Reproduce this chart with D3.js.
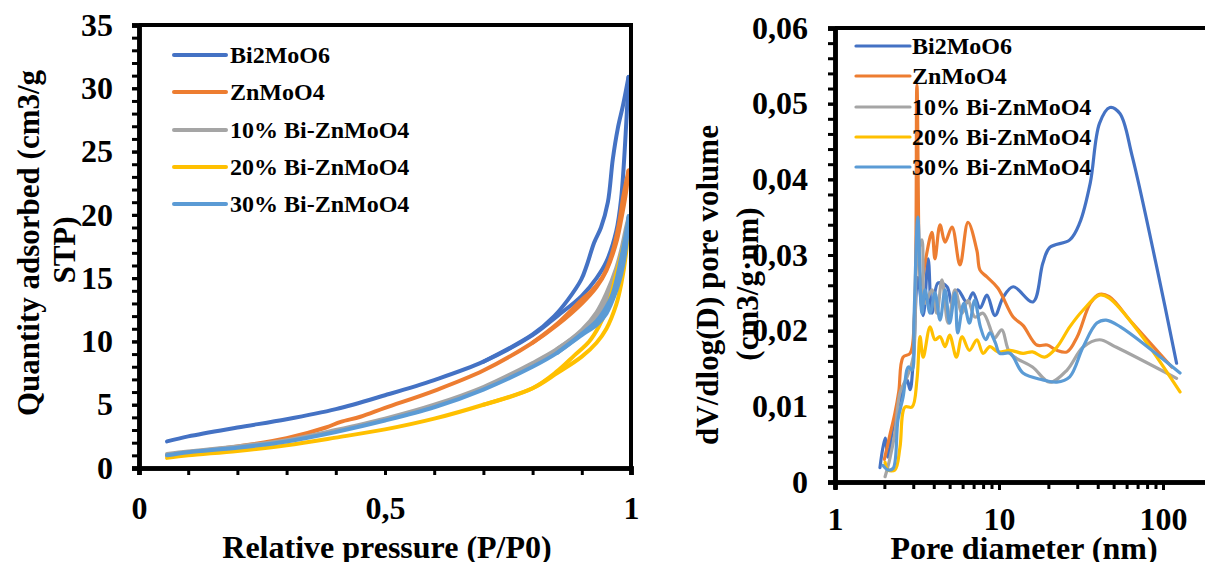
<!DOCTYPE html>
<html><head><meta charset="utf-8">
<script src="https://cdn.jsdelivr.net/npm/d3@7"></script>
<style>
body{margin:0;background:#fff;}
svg text{font-family:"Liberation Serif","Times New Roman",serif;font-weight:bold;fill:#000;}
</style>
</head><body>
<svg id="c" width="1205" height="562"></svg>
<script>
// ---------- shared ----------
const seriesNames = ["Bi2MoO6", "ZnMoO4", "10% Bi-ZnMoO4", "20% Bi-ZnMoO4", "30% Bi-ZnMoO4"];
const seriesColors = ["#4472C4", "#ED7D31", "#A5A5A5", "#FFC000", "#5B9BD5"];

// ---------- left: N2 isotherms (adsorption + desorption branches) ----------
const pAds = [0.057, 0.1, 0.2, 0.3, 0.4, 0.5, 0.6, 0.7, 0.8, 0.85, 0.9, 0.93, 0.95, 0.97, 0.98, 0.99, 0.995];
const bi2Ads = [2.1, 2.5, 3.2, 3.85, 4.65, 5.75, 6.95, 8.4, 10.5, 12.0, 13.6, 15.0, 16.3, 18.7, 21.3, 27.0, 30.9];
const bi2DesP = [0.995, 0.984, 0.973, 0.963, 0.953, 0.939, 0.925, 0.91, 0.899, 0.872, 0.844, 0.8, 0.7];
const bi2DesQ = [30.9, 28.7, 26.8, 24.4, 21.0, 19.0, 17.8, 16.0, 14.9, 13.3, 12.0, 10.55, 8.4];
const znAdsP = [0.057, 0.1, 0.2, 0.3, 0.38, 0.41, 0.45, 0.5, 0.6, 0.7, 0.8, 0.85, 0.9, 0.93, 0.95, 0.97, 0.98, 0.99, 0.995];
const znAdsQ = [1.0, 1.25, 1.7, 2.35, 3.2, 3.65, 4.05, 4.75, 6.1, 7.7, 9.9, 11.3, 13.0, 14.3, 15.6, 17.8, 19.6, 21.8, 23.5];
const znDesP = [0.995, 0.985, 0.975, 0.962, 0.945, 0.92, 0.9, 0.85, 0.8];
const znDesQ = [23.5, 21.6, 19.2, 17.0, 15.3, 14.0, 13.3, 11.4, 9.9];
const bi10Ads = [1.1, 1.3, 1.7, 2.2, 3.0, 3.9, 5.0, 6.4, 8.3, 9.4, 10.9, 12.3, 13.8, 15.8, 17.2, 19.0, 19.8];
const bi10DesP = [0.995, 0.99, 0.98, 0.965, 0.95, 0.93, 0.9, 0.85];
const bi10DesQ = [19.8, 18.5, 16.8, 14.6, 13.3, 12.0, 10.8, 9.4];
const bi20Ads = [0.8, 1.0, 1.35, 1.8, 2.4, 3.05, 3.9, 5.0, 6.3, 7.5, 8.8, 9.9, 11.0, 12.9, 14.5, 17.0, 19.4];
const bi20DesP = [0.995, 0.985, 0.97, 0.953, 0.935, 0.915, 0.885, 0.85, 0.8, 0.7];
const bi20DesQ = [19.4, 17.6, 15.3, 12.8, 11.2, 10.0, 8.9, 7.65, 6.3, 5.0];
const bi30Ads = [1.0, 1.25, 1.6, 2.1, 2.85, 3.75, 4.8, 6.2, 8.0, 9.1, 10.5, 11.3, 12.2, 14.0, 15.3, 17.5, 19.9];
const bi30DesP = [0.996, 0.99, 0.98, 0.963, 0.945, 0.93, 0.9, 0.85];
const bi30DesQ = [19.9, 18.6, 16.6, 13.8, 12.4, 11.6, 10.6, 9.1];
const leftYTicks = [0, 5, 10, 15, 20, 25, 30, 35];
const leftXTicks = [0, 0.5, 1];

// ---------- right: pore size distribution ----------
const bi2Diam = [1.88, 2.02, 2.1, 2.26, 2.56, 2.75, 2.87, 3.0, 3.2, 3.45, 3.7, 3.9, 4.25, 4.82, 5.17, 5.6, 6.38, 6.94, 7.67, 8.44, 9.45, 10.6, 12.2, 16.1, 18.5, 20.4, 27, 31, 36, 41, 47.4, 54.6, 65, 91.6, 121];
const bi2Vol = [0.0019, 0.0058, 0.0033, 0.0073, 0.0118, 0.0135, 0.0122, 0.016, 0.027, 0.022, 0.0295, 0.0223, 0.0263, 0.0258, 0.0234, 0.0254, 0.0237, 0.025, 0.023, 0.0247, 0.022, 0.0244, 0.0258, 0.0238, 0.0289, 0.031, 0.032, 0.0342, 0.0395, 0.0474, 0.0495, 0.0487, 0.043, 0.0284, 0.0157];
const znDiam = [2.0, 2.15, 2.32, 2.45, 2.6, 2.87, 3.05, 3.16, 3.35, 3.54, 3.9, 4.07, 4.37, 4.69, 5.17, 5.78, 6.47, 7.33, 7.66, 8.44, 9.86, 12.2, 14, 17, 19.7, 22.5, 26, 30, 36, 41, 47, 65, 113];
const znVol = [0.003, 0.006, 0.0091, 0.012, 0.0165, 0.017, 0.022, 0.0525, 0.026, 0.029, 0.033, 0.0295, 0.034, 0.0317, 0.0337, 0.0287, 0.0343, 0.0306, 0.028, 0.0271, 0.0256, 0.0218, 0.0207, 0.0181, 0.0181, 0.0174, 0.0172, 0.0192, 0.0236, 0.0248, 0.0245, 0.021, 0.0152];
const bi10Diam = [2.02, 2.15, 2.32, 2.49, 2.75, 3.0, 3.16, 3.39, 3.54, 3.9, 4.18, 4.49, 4.89, 5.39, 5.95, 6.47, 7.14, 7.99, 9.05, 9.4, 10.4, 11.7, 16, 20.4, 26, 32.5, 41, 52, 121];
const bi10Vol = [0.0007, 0.0029, 0.0065, 0.0118, 0.0139, 0.0165, 0.0293, 0.032, 0.0236, 0.0254, 0.0223, 0.0267, 0.021, 0.0254, 0.0223, 0.024, 0.0218, 0.0223, 0.0197, 0.019, 0.0201, 0.017, 0.0152, 0.0132, 0.0148, 0.0178, 0.0188, 0.0178, 0.0137];
const bi20Diam = [2.02, 2.1, 2.32, 2.49, 2.67, 2.95, 3.16, 3.3, 3.45, 3.8, 4.07, 4.37, 4.69, 5.0, 5.5, 5.95, 6.6, 7.33, 8.0, 8.8, 9.86, 11.7, 14, 16, 19, 22.5, 27, 32.5, 41, 47, 72, 127];
const bi20Vol = [0.0026, 0.0016, 0.0016, 0.0046, 0.0099, 0.0099, 0.0135, 0.0192, 0.0165, 0.0205, 0.0188, 0.0192, 0.0179, 0.0194, 0.0165, 0.0192, 0.0174, 0.0188, 0.017, 0.0179, 0.0172, 0.0174, 0.017, 0.0172, 0.0165, 0.0178, 0.0205, 0.0227, 0.0247, 0.0243, 0.0197, 0.0119];
const bi30Diam = [1.96, 2.1, 2.26, 2.42, 2.6, 2.8, 2.95, 3.03, 3.2, 3.39, 3.54, 3.8, 4.07, 4.37, 4.69, 5.0, 5.39, 5.6, 6.1, 6.6, 7.1, 7.7, 8.3, 8.8, 9.5, 10.1, 11.7, 14, 18.5, 22.5, 27, 32.5, 39.5, 45, 55, 127];
const bi30Vol = [0.0022, 0.0016, 0.0018, 0.0082, 0.0112, 0.0152, 0.0148, 0.0214, 0.035, 0.0223, 0.0254, 0.0223, 0.025, 0.0214, 0.0254, 0.021, 0.025, 0.0197, 0.0236, 0.021, 0.024, 0.0205, 0.0188, 0.0197, 0.0184, 0.017, 0.017, 0.0144, 0.0135, 0.0132, 0.0139, 0.0178, 0.021, 0.0214, 0.0205, 0.0144];
const rightYTicks = [0, 0.01, 0.02, 0.03, 0.04, 0.05, 0.06];
const rightXTicks = [1, 10, 100];

const svg = d3.select("#c");
const TICK_FONT = "32px";

// ================= LEFT CHART =================
const L = {x0: 139, x1: 631, y0: 468, y1: 25};
const lx = d3.scaleLinear().domain([0, 1]).range([L.x0, L.x1]);
const ly = d3.scaleLinear().domain([0, 35]).range([L.y0, L.y1]);

const isoSeries = [
  {ads: pAds.map((p, i) => [p, bi2Ads[i]]), des: bi2DesP.map((p, i) => [p, bi2DesQ[i]])},
  {ads: znAdsP.map((p, i) => [p, znAdsQ[i]]), des: znDesP.map((p, i) => [p, znDesQ[i]])},
  {ads: pAds.map((p, i) => [p, bi10Ads[i]]), des: bi10DesP.map((p, i) => [p, bi10DesQ[i]])},
  {ads: pAds.map((p, i) => [p, bi20Ads[i]]), des: bi20DesP.map((p, i) => [p, bi20DesQ[i]])},
  {ads: pAds.map((p, i) => [p, bi30Ads[i]]), des: bi30DesP.map((p, i) => [p, bi30DesQ[i]])}
];
const isoLine = d3.line().x(d => lx(d[0])).y(d => ly(d[1])).curve(d3.curveCatmullRom.alpha(0.5));
isoSeries.forEach((s, i) => {
  const g = svg.append("g");
  [s.ads, s.des].forEach(branch => {
    g.append("path").attr("d", isoLine(branch)).attr("fill", "none")
      .attr("stroke", seriesColors[i]).attr("stroke-width", 4)
      .attr("stroke-linecap", "round").attr("stroke-linejoin", "round");
  });
});

// frame
svg.append("line").attr("x1", L.x0).attr("x2", L.x1 + 2).attr("y1", L.y1).attr("y2", L.y1).attr("stroke", "#000").attr("stroke-width", 4);
svg.append("line").attr("x1", L.x1).attr("x2", L.x1).attr("y1", L.y1).attr("y2", L.y0).attr("stroke", "#000").attr("stroke-width", 4);

function styleAxis(g, w) {
  g.select(".domain").attr("stroke", "#000").attr("stroke-width", w);
  g.selectAll(".tick line").attr("stroke", "#000").attr("stroke-width", 3);
  g.selectAll(".tick text").style("font-size", TICK_FONT).attr("fill", "#000");
}
const fmtComma = v => v === 0 ? "0" : String(v).replace(".", ",");

// left y axis
const lyMinor = svg.append("g").attr("transform", `translate(${L.x0},0)`)
  .call(d3.axisLeft(ly).tickValues(d3.range(0, 36, 1)).tickSize(7).tickFormat(""));
styleAxis(lyMinor, 4.5);
const lyMajor = svg.append("g").attr("transform", `translate(${L.x0},0)`)
  .call(d3.axisLeft(ly).tickValues(leftYTicks).tickSize(7).tickPadding(19).tickFormat(fmtComma));
styleAxis(lyMajor, 4.5);
// left x axis
const lxMinor = svg.append("g").attr("transform", `translate(0,${L.y0})`)
  .call(d3.axisBottom(lx).tickValues(d3.range(0, 11).map(i => i / 10)).tickSize(7).tickFormat(""));
styleAxis(lxMinor, 4.5);
const lxMajor = svg.append("g").attr("transform", `translate(0,${L.y0})`)
  .call(d3.axisBottom(lx).tickValues(leftXTicks).tickSize(7).tickPadding(21).tickFormat(fmtComma));
styleAxis(lxMajor, 4.5);

// titles
svg.append("text").attr("transform", "translate(28,243) rotate(-90)").attr("text-anchor", "middle").attr("dy", "0.35em")
  .style("font-size", "31px").text("Quantity adsorbed (cm3/g");
svg.append("text").attr("transform", "translate(64,250) rotate(-90)").attr("text-anchor", "middle").attr("dy", "0.35em")
  .style("font-size", "31px").text("STP)");
svg.append("text").attr("x", 387).attr("y", 558).attr("text-anchor", "middle")
  .style("font-size", "32px").text("Relative pressure (P/P0)");

// left legend
const leftLegY = [55, 92, 130, 167, 204];
seriesNames.forEach((n, i) => {
  svg.append("line").attr("x1", 174).attr("x2", 226).attr("y1", leftLegY[i]).attr("y2", leftLegY[i])
    .attr("stroke", seriesColors[i]).attr("stroke-width", 4).attr("stroke-linecap", "round");
  svg.append("text").attr("x", 230).attr("y", leftLegY[i]).attr("dy", "0.35em")
    .style("font-size", "24px").text(n);
});

// ================= RIGHT CHART =================
const R = {x0: 835, y0: 482, y1: 28};
const rx = d3.scaleLog().domain([1, 1000]).range([835, 835 + 3 * 164]);
const ry = d3.scaleLinear().domain([0, 0.06]).range([R.y0, R.y1]);

const psdSeries = [
  bi2Diam.map((d, i) => [d, bi2Vol[i]]),
  znDiam.map((d, i) => [d, znVol[i]]),
  bi10Diam.map((d, i) => [d, bi10Vol[i]]),
  bi20Diam.map((d, i) => [d, bi20Vol[i]]),
  bi30Diam.map((d, i) => [d, bi30Vol[i]])
];
const psdLine = d3.line().x(d => rx(d[0])).y(d => ry(d[1])).curve(d3.curveCatmullRom.alpha(0.5));
psdSeries.forEach((s, i) => {
  svg.append("path").attr("d", psdLine(s)).attr("fill", "none")
    .attr("stroke", seriesColors[i]).attr("stroke-width", 3.2).attr("stroke-linejoin", "round").attr("stroke-linecap", "round");
});

svg.append("line").attr("x1", R.x0).attr("x2", 1205).attr("y1", R.y1).attr("y2", R.y1).attr("stroke", "#000").attr("stroke-width", 4);

const ryMinor = svg.append("g").attr("transform", `translate(${R.x0},0)`)
  .call(d3.axisLeft(ry).tickValues(d3.range(0, 31).map(i => i * 0.002)).tickSize(7).tickFormat(""));
styleAxis(ryMinor, 4.5);
const ryMajor = svg.append("g").attr("transform", `translate(${R.x0},0)`)
  .call(d3.axisLeft(ry).tickValues(rightYTicks).tickSize(7).tickPadding(20).tickFormat(v => fmtComma(+v.toFixed(2))));
styleAxis(ryMajor, 4.5);

const logMinor = [];
[1, 10, 100].forEach(b => { for (let k = 1; k <= 9; k++) logMinor.push(b * k); });
const rxMinor = svg.append("g").attr("transform", `translate(0,${R.y0})`)
  .call(d3.axisBottom(rx).tickValues(logMinor).tickSize(7).tickFormat(""));
styleAxis(rxMinor, 4.5);
const rxMajor = svg.append("g").attr("transform", `translate(0,${R.y0})`)
  .call(d3.axisBottom(rx).tickValues(rightXTicks).tickSize(8).tickPadding(17).tickFormat(d3.format("d")));
styleAxis(rxMajor, 4.5);

svg.append("text").attr("transform", "translate(707,285) rotate(-90)").attr("text-anchor", "middle").attr("dy", "0.35em")
  .style("font-size", "31px").text("dV/dlog(D) pore volume");
svg.append("text").attr("transform", "translate(747,284) rotate(-90)").attr("text-anchor", "middle").attr("dy", "0.35em")
  .style("font-size", "31px").text("(cm3/g·nm)");
svg.append("text").attr("x", 1024).attr("y", 559).attr("text-anchor", "middle")
  .style("font-size", "32px").text("Pore diameter (nm)");

const rightLegY = [46, 76, 107, 137, 167];
seriesNames.forEach((n, i) => {
  svg.append("line").attr("x1", 856).attr("x2", 910).attr("y1", rightLegY[i]).attr("y2", rightLegY[i])
    .attr("stroke", seriesColors[i]).attr("stroke-width", 3.2).attr("stroke-linecap", "round");
  svg.append("text").attr("x", 912).attr("y", rightLegY[i]).attr("dy", "0.35em")
    .style("font-size", "24px").text(n);
});
</script>
</body></html>
